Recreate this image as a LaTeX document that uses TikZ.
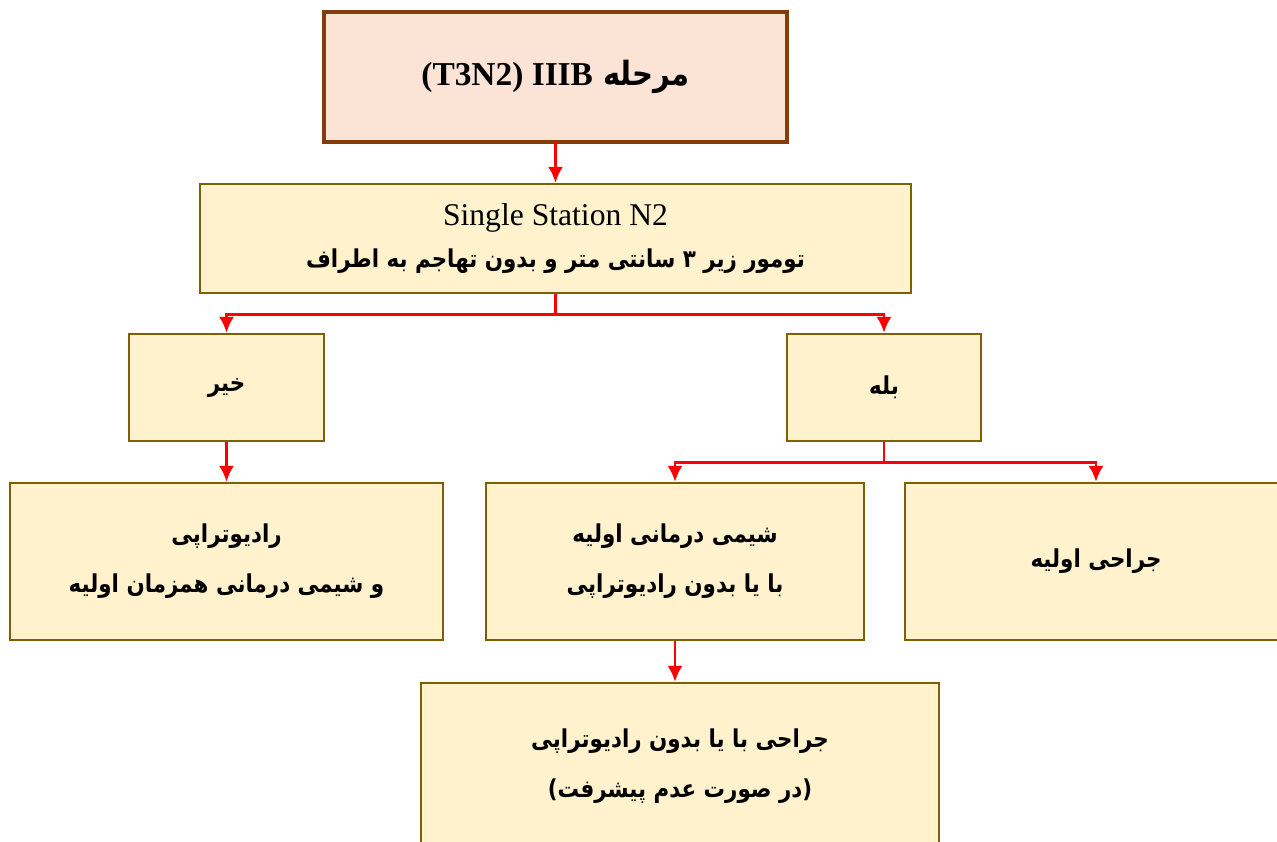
\documentclass[tikz,border=0pt]{standalone}
\usepackage{fontspec}
\setmainfont{Liberation Serif}
\newfontfamily\farsi[Script=Arabic,FakeStretch=0.87]{DejaVu Sans}
\TeXXeTstate=1
\usetikzlibrary{arrows.meta}
\definecolor{stagefill}{HTML}{FBE4D5}
\definecolor{stageline}{HTML}{843C0C}
\definecolor{boxfill}{HTML}{FFF2CC}
\definecolor{boxline}{HTML}{7F6000}
\begin{document}
\begin{tikzpicture}[
  box/.style={draw=boxline, fill=boxfill, line width=1.4pt, align=center,
    inner sep=0pt, font=\farsi\bfseries\fontsize{14}{28.5}\selectfont},
  flow/.style={red, line width=1.5pt, -{Latex[length=9pt,width=8.5pt]}}]
  \useasboundingbox (0,0) rectangle (25.54,-16.82);
  % stage
  \node[draw=stageline!60!black, double=stageline, double distance=2pt,
    fill=stagefill, minimum width=9.26cm, minimum height=2.6cm,
    font=\farsi\bfseries\fontsize{19}{23}\selectfont] (stage) at (11.11,-1.54)
    {\beginR مرحله \beginL{\rmfamily (T3N2) IIIB}\endL\endR};
  \node[box, minimum width=14.22cm, minimum height=2.18cm] (mid) at (11.11,-4.77)
    {{\rmfamily\mdseries\fontsize{18}{22}\selectfont Single Station N2}\\[-5pt]
     \beginR تومور زیر ۳ سانتی متر و بدون تهاجم به اطراف\endR};
  % yes / no
  \node[box, minimum width=3.9cm, minimum height=2.14cm] (no) at (4.53,-7.75)
    {\beginR خیر\endR};
  \node[box, minimum width=3.88cm, minimum height=2.14cm] (yes) at (17.68,-7.75)
    {\beginR بله\endR};
  % treatments
  \node[box, minimum width=8.66cm, minimum height=3.14cm] (radio) at (4.53,-11.23)
    {\beginR رادیوتراپی\endR\\ \beginR و شیمی درمانی همزمان اولیه\endR};
  \node[box, minimum width=7.56cm, minimum height=3.14cm] (chemo) at (13.5,-11.23)
    {\beginR شیمی درمانی اولیه\endR\\ \beginR با یا بدون رادیوتراپی\endR};
  \node[box, minimum width=7.64cm, minimum height=3.14cm] (surg) at (21.92,-11.23)
    {\beginR جراحی اولیه\endR};
  \node[box, minimum width=10.36cm, minimum height=3.32cm] (final) at (13.6,-15.32)
    {\beginR جراحی با یا بدون رادیوتراپی\endR\\ \beginR (در صورت عدم پیشرفت)\endR};
  % arrows
  \draw[flow] (stage.south) -- (mid.north);
  \draw[flow] (mid.south) -- ++(0,-0.4) -| (no.north);
  \draw[flow] (mid.south) -- ++(0,-0.4) -| (yes.north);
  \draw[flow] (no.south) -- (radio.north);
  \draw[flow] (yes.south) -- ++(0,-0.4) -| (chemo.north);
  \draw[flow] (yes.south) -- ++(0,-0.4) -| (surg.north);
  \draw[flow] (chemo.south) -- (chemo.south |- final.north);
\end{tikzpicture}
\end{document}
